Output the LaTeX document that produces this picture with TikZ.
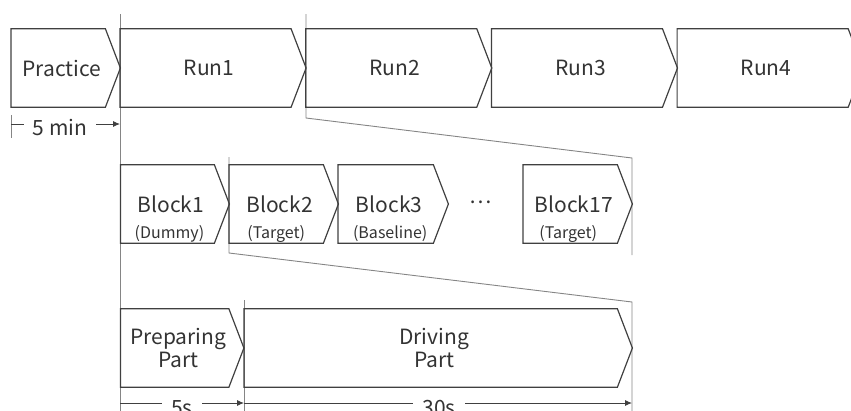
\documentclass[tikz,border=0pt]{standalone}
\usepackage{fontspec}
\setmainfont{Noto Sans CJK JP}
\usetikzlibrary{arrows.meta,calc}
\definecolor{boxc}{HTML}{404040}
\definecolor{linec}{HTML}{858585}
\definecolor{txtc}{HTML}{333333}
\tikzset{
 chev/.style={rectangle, inner sep=0pt, minimum height=78pt, text=txtc, font=\fontsize{21}{23.5}\selectfont, align=center},
 chevline/.style={draw=boxc, line width=1.2pt, line join=miter},
 conn/.style={draw=linec, line width=0.9pt},
 dimline/.style={draw=boxc, line width=0.9pt, -{Latex[length=7pt,width=6pt]}},
 dimlabel/.style={fill=white, text=txtc, font=\fontsize{21}{24}\selectfont, inner xsep=9pt, inner ysep=0pt},
 sublabel/.style={text=txtc, font=\fontsize{16}{18}\selectfont, inner sep=0pt},
}
\newcommand\chevbox[5]{%
  \node[chev, minimum width={#3-#2-8}, anchor=west] (#1) at (#2,#4) {#5};
  \draw[chevline] (#1.north west) -- ([xshift=-7pt]#1.north east) -- ([xshift=8pt]#1.east)
     -- ([xshift=-7pt]#1.south east) -- (#1.south west) -- cycle;
}
\begin{document}
\begin{tikzpicture}[x=1pt,y=-1pt]
\useasboundingbox (0,0) rectangle (851,410);
% guide / zoom connectors
\coordinate (vAtop) at (120,14);
\coordinate (vAbot) at (120,420);
\coordinate (vBtop) at (306,14);
\coordinate (vBmid) at (306,118);
\coordinate (vBend) at (632,158);
\coordinate (vBbot) at (632,255);
\coordinate (vCtop) at (229,157);
\coordinate (vCmid) at (229,253);
\coordinate (vCend) at (632,302);
\coordinate (vCbot) at (632,420);
\coordinate (vDtop) at (244,300);
\coordinate (vDbot) at (244,420);
\draw[conn] (vAtop) -- (vAbot);
\draw[conn] (vBtop) -- (vBmid) -- (vBend) -- (vBbot);
\draw[conn] (vCtop) -- (vCmid) -- (vCend) -- (vCbot);
\draw[conn] (vDtop) -- (vDbot);
% top row
\chevbox{prac}{11}{120}{68}{Practice}
\chevbox{run1}{120}{305.7}{68}{Run1}
\chevbox{run2}{305.7}{491.4}{68}{Run2}
\chevbox{run3}{491.4}{677.1}{68}{Run3}
\chevbox{run4}{677.1}{862.8}{68}{Run4}
% 5 min
\coordinate (tickT) at (11,115);
\coordinate (tickB) at (11,138);
\coordinate (dimA) at (11,124);
\coordinate (dimAe) at (120,124);
\draw[conn] (tickT) -- (tickB);
\draw[dimline] (dimA) -- (dimAe);
\node[dimlabel] (fivemin) at (60,127) {5 min};
% blocks
\chevbox{blk1}{120.5}{229}{204}{Block1}
\chevbox{blk2}{229}{338}{204}{Block2}
\chevbox{blk3}{338}{448}{204}{Block3}
\chevbox{blk17}{523}{632}{204}{Block17}
\node[sublabel] (s1) at ($(blk1.center)+(-1.5,29.5)$) {(Dummy)};
\node[sublabel] (s2) at ($(blk2.center)+(-3.5,29.5)$) {(Target)};
\node[sublabel] (s3) at ($(blk3.center)+(1,29.5)$) {(Baseline)};
\node[sublabel] (s17) at ($(blk17.center)+(-5.5,29.5)$) {(Target)};
\node[text=txtc, font=\fontsize{21}{24}\selectfont, inner sep=0pt] (dots) at (481,202) {⋯};
% parts
\chevbox{prep}{120.5}{243.5}{348}{Preparing\\Part}
\chevbox{drive}{244}{632}{348}{Driving\\Part}
% bottom durations
\coordinate (dB1) at (120,403);
\coordinate (dB2) at (244,403);
\coordinate (dB3) at (632,403);
\draw[dimline] (dB1) -- (dB2);
\draw[dimline] (dB2) -- (dB3);
\node[dimlabel] (fives) at (182,408) {5s};
\node[dimlabel] (thirtys) at (439,408) {30s};
\end{tikzpicture}
\end{document}
